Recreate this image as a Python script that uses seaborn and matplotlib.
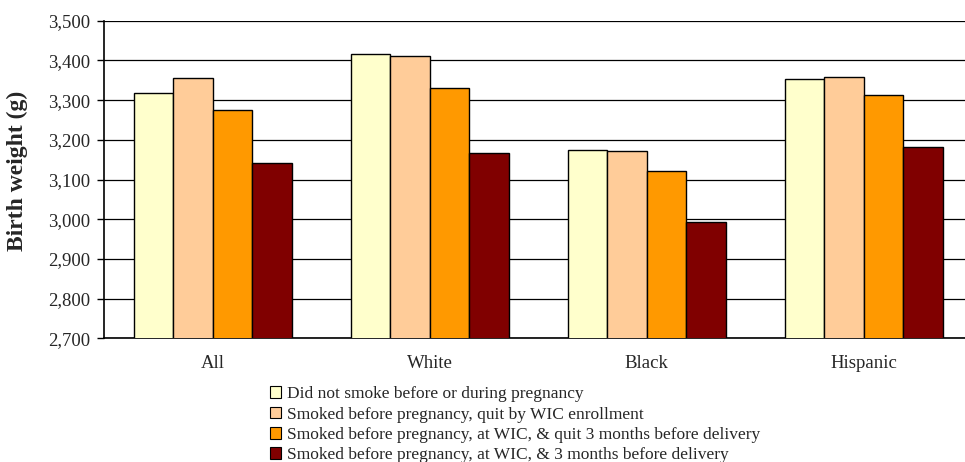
import pandas as pd
import numpy as np
import matplotlib.pyplot as plt
import seaborn as sns
from matplotlib.patches import Patch

groups = ['All', 'White', 'Black', 'Hispanic']
series = ['Did not smoke before or during pregnancy',
          'Smoked before pregnancy, quit by WIC enrollment',
          'Smoked before pregnancy, at WIC, & quit 3 months before delivery',
          'Smoked before pregnancy, at WIC, & 3 months before delivery']
no_smoke = [3317, 3417, 3175, 3352]
quit_wic = [3356, 3412, 3172, 3359]
quit_3mo = [3275, 3331, 3122, 3313]
smoked_3mo = [3141, 3166, 2992, 3183]
colors = ['#FFFFCC', '#FFCC99', '#FF9900', '#800000']

rows = []
for s, vals in zip(series, [no_smoke, quit_wic, quit_3mo, smoked_3mo]):
    for g, v in zip(groups, vals):
        rows.append({'group': g, 'series': s, 'value': v})
df = pd.DataFrame(rows)

sns.set_theme(style='white')
plt.rcParams['font.family'] = ['Liberation Serif', 'DejaVu Serif']

fig = plt.figure(figsize=(9.65, 4.62), dpi=100)
# plot area runs past the right edge, as in the source image
ax = fig.add_axes([0.1078, 0.2677, 0.8995, 0.6874])

sns.barplot(data=df, x='group', y='value', hue='series', palette=colors,
            saturation=1, width=0.728, edgecolor='black', linewidth=1,
            legend=False, ax=ax, zorder=3)

ax.set_ylim(2700, 3500)
ax.set_xlim(-0.5, 3.5)
ax.set_yticks(np.arange(2700, 3501, 100))
ax.set_yticklabels(['{:,}'.format(v) for v in range(2700, 3501, 100)], fontsize=13.5)
ax.yaxis.grid(True, color='black', linewidth=0.9, zorder=0)
ax.set_axisbelow(True)
ax.set_xlabel('')
ax.set_ylabel('Birth weight (g)', fontsize=17, fontweight='bold')
ax.yaxis.set_label_coords(-0.0876, 0.527)
ax.tick_params(axis='x', which='major', length=0, labelsize=13.5, pad=12)
ax.set_xticks([0.5, 1.5, 2.5], minor=True)
ax.tick_params(axis='x', which='minor', length=5, width=1, color='black', direction='out')
ax.tick_params(axis='y', length=5, width=1, color='black', direction='out', left=True, pad=5)
for side in ['top', 'right']:
    ax.spines[side].set_visible(False)
for side in ['left', 'bottom']:
    ax.spines[side].set_color('black')
    ax.spines[side].set_linewidth(1.2)

handles = [Patch(facecolor=c, edgecolor='black', linewidth=0.8) for c in colors]
fig.legend(handles, series, loc='upper left', bbox_to_anchor=(0.2798, 0.164),
           frameon=False, fontsize=12.5, handlelength=0.65, handleheight=0.65,
           handletextpad=0.35, labelspacing=0.25, borderpad=0, borderaxespad=0)

plt.savefig('out.png', dpi=100)
